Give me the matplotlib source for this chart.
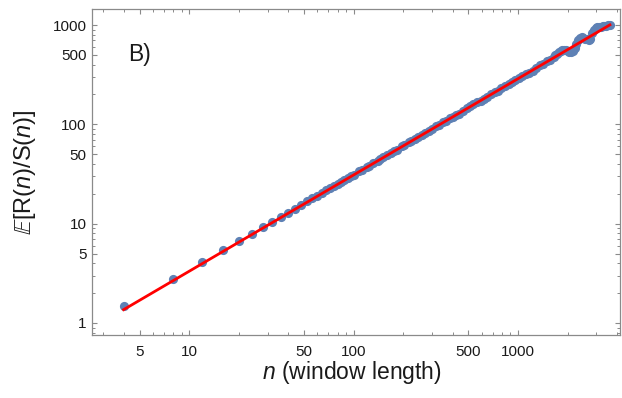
import matplotlib
matplotlib.use("Agg")
import matplotlib.pyplot as plt
from matplotlib.ticker import FixedLocator, FixedFormatter, NullFormatter
import numpy as np

plt.rcParams["font.family"] = ["Liberation Sans", "DejaVu Sans"]
plt.rcParams["mathtext.fontset"] = "custom"
plt.rcParams["mathtext.rm"] = "Liberation Sans"
plt.rcParams["mathtext.it"] = "Liberation Sans:italic"
plt.rcParams["mathtext.fallback"] = "stixsans"

# window lengths and mean rescaled range
window_n = [4, 8, 12, 16, 20, 24, 28, 32, 36, 40, 44, 48, 52, 56, 60, 64, 68, 72, 76, 80,
            84, 88, 92, 96, 100, 108, 112, 120, 124, 132, 140, 144, 152, 160, 168, 176, 184,
            196, 204, 216, 224, 236, 248, 260, 272, 288, 300, 316, 332, 348, 364, 384, 400,
            420, 440, 464, 488, 512, 536, 564, 592, 620, 652, 684, 720, 756, 792, 832, 876,
            920, 964, 1012, 1064, 1116, 1172, 1232, 1292, 1356, 1424, 1496, 1572, 1648, 1690,
            1732, 1776, 1820, 1864, 1908, 1956, 2004, 2054, 2104, 2158, 2212, 2266, 2320,
            2378, 2436, 2498, 2560, 2624, 2688, 2754, 2820, 2890, 2960, 3034, 3108, 3186,
            3264, 3346, 3428, 3514, 3600]
rs_mean = [1.48, 2.79, 4.11, 5.43, 6.65, 7.94, 9.2, 10.4, 11.7, 12.9, 14.2, 15.5, 17.1, 18.1,
           19.2, 20.5, 21.7, 22.9, 24.2, 25.3, 26.5, 27.6, 28.8, 30.0, 31.2, 33.6, 34.6, 37.2,
           38.1, 40.9, 43.0, 44.5, 46.5, 49.3, 51.2, 54.0, 55.8, 59.9, 61.6, 65.8, 67.5, 71.9,
           74.8, 78.2, 82.5, 86.4, 89.3, 95.5, 99.0, 104.5, 108.2, 115.0, 118.0, 125.5, 128.0,
           135.0, 146.5, 153.0, 160.5, 167.0, 172.5, 182.0, 188.5, 200.5, 211.0, 218.0, 231.5,
           242.0, 255.5, 266.0, 280.5, 292.0, 310.0, 323.0, 333.0, 347.0, 371.0, 392.0, 409.0,
           431.0, 449.0, 478.0, 495.0, 513.0, 534.0, 551.0, 561.0, 564.0, 558.0, 552.0, 539.0,
           533.0, 553.0, 593.0, 651.0, 713.0, 748.0, 756.0, 749.0, 732.0, 716.0, 700.0, 717.0,
           823.0, 883.0, 924.0, 947.0, 947.0, 959.0, 970.0, 971.0, 983.0, 995.0, 1007.0]

# power-law fit  E[R/S] = c * n^H
fit_prefactor = 0.355
fit_exponent = 0.97
fit_n_range = (4, 3620)

x_major = [5, 10, 50, 100, 500, 1000]
x_minor = [3, 4, 6, 7, 8, 9, 20, 30, 40, 60, 70, 80, 90, 200, 300, 400,
           600, 700, 800, 900, 2000, 3000, 4000]
y_major = [1, 5, 10, 50, 100, 500, 1000]
y_minor = [0.8, 0.9, 2, 3, 4, 6, 7, 8, 9, 20, 30, 40, 60, 70, 80, 90,
           200, 300, 400, 600, 700, 800, 900]

frame_color = "#8a8a8a"
point_color = "#5E81B5"

fig = plt.figure(figsize=(6.22, 3.98), dpi=100)
ax = fig.add_axes([92 / 622, 63 / 398, 528 / 622, 326 / 398])

ax.plot(window_n, rs_mean, "o", color=point_color, markersize=6.6,
        markeredgewidth=0, zorder=2)
n_fit = np.geomspace(*fit_n_range, 200)
ax.plot(n_fit, fit_prefactor * n_fit ** fit_exponent, color="#ff0000", lw=2.0, zorder=3)

ax.set_xscale("log")
ax.set_yscale("log")
ax.set_xlim(2.57, 4170)
ax.set_ylim(0.757, 1452)

for axis, major, minor in [(ax.xaxis, x_major, x_minor), (ax.yaxis, y_major, y_minor)]:
    axis.set_major_locator(FixedLocator(major))
    axis.set_major_formatter(FixedFormatter([str(v) for v in major]))
    axis.set_minor_locator(FixedLocator(minor))
    axis.set_minor_formatter(NullFormatter())

ax.tick_params(which="both", direction="in", top=True, right=True, color=frame_color,
               labelsize=11, labelcolor="#1a1a1a")
ax.tick_params(which="major", length=3.4, width=0.8)
ax.tick_params(which="minor", length=1.9, width=0.7)
ax.tick_params(axis="x", which="major", pad=7)
ax.tick_params(axis="y", which="major", pad=4)
for spine in ax.spines.values():
    spine.set_color(frame_color)
    spine.set_linewidth(0.9)

ax.text(0.068, 0.859, "B)", transform=ax.transAxes, ha="left", va="center", fontsize=16.5,
        color="#1a1a1a")

fig.text(352 / 622, 1 - 373 / 398, r"$n$ (window length)", ha="center", va="center",
         fontsize=16.5, color="#1a1a1a")
fig.text(25 / 622, 1 - 172 / 398, r"$\mathbb{E}[\mathrm{R}(n)/\mathrm{S}(n)]$",
         rotation=90, ha="center", va="center", fontsize=17, color="#1a1a1a")

fig.savefig("out.png", dpi=100)
